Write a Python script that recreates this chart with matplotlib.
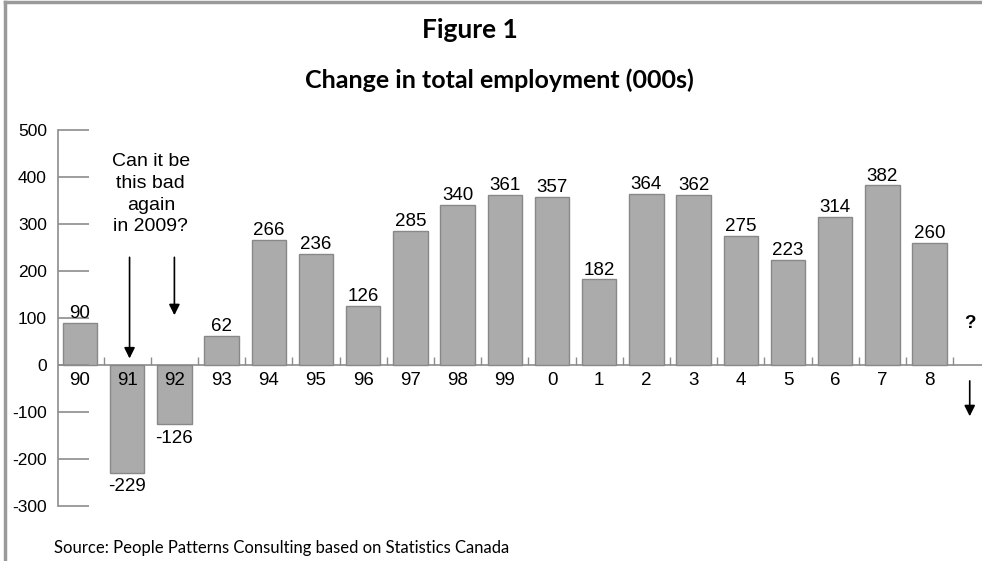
import matplotlib.pyplot as plt
from matplotlib.lines import Line2D

years = ["90", "91", "92", "93", "94", "95", "96", "97", "98", "99",
         "0", "1", "2", "3", "4", "5", "6", "7", "8"]
change = [90, -229, -126, 62, 266, 236, 126, 285, 340, 361,
          357, 182, 364, 362, 275, 223, 314, 382, 260]
yticks = [-300, -200, -100, 0, 100, 200, 300, 400, 500]

W, H = 982, 561
fig = plt.figure(figsize=(W / 100, H / 100), dpi=100)
ax = fig.add_axes([58 / W, 55 / H, 924 / W, 376 / H])

num_font = "Liberation Sans"
bar_col = "#ababab"
edge_col = "#888888"
axis_col = "#8c8c8c"

xs = list(range(len(years)))
ax.bar(xs, change, width=0.73, color=bar_col, edgecolor=edge_col, linewidth=1)

ax.set_xlim(-0.466, 19.11)
ax.set_ylim(-300, 500)

# value labels
for x, v in zip(xs, change):
    if v >= 0:
        ax.text(x, v + 2, str(v), ha="center", va="bottom", fontsize=13.5, family=num_font)
    else:
        ax.text(x, v - 12, str(v), ha="center", va="top", fontsize=13.5, family=num_font)

# category labels under the zero line
for x, lab in zip(xs, years):
    ax.text(x, -15, lab, ha="center", va="top", fontsize=13.5, family=num_font)

# zero line and small separators
ax.axhline(0, color=axis_col, lw=1.2, zorder=0)
ax.vlines([x + 0.5 for x in xs], 0, 16, color=axis_col, lw=1)

# y axis
for s in ["top", "right", "bottom"]:
    ax.spines[s].set_visible(False)
ax.spines["left"].set_color(axis_col)
ax.spines["left"].set_linewidth(1.2)
ax.set_xticks([])
ax.set_yticks(yticks)
ax.set_yticklabels([str(t) for t in yticks], family=num_font, fontsize=12.5)
ax.tick_params(axis="y", direction="in", length=22, width=1.2, color=axis_col, pad=8)

# annotations
ax.text(1.5, 450, "Can it be\nthis bad\nagain\nin 2009?", ha="center", va="top",
        fontsize=14, family=num_font, linespacing=1.35)
ax.annotate("", xy=(1.05, 8), xytext=(1.05, 235),
            arrowprops=dict(arrowstyle="-|>", color="black", lw=1.2, mutation_scale=16))
ax.annotate("", xy=(2.0, 100), xytext=(2.0, 235),
            arrowprops=dict(arrowstyle="-|>", color="black", lw=1.2, mutation_scale=16))
ax.text(18.85, 88, "?", ha="center", va="center", fontsize=13.5, fontweight="bold", family=num_font)
ax.annotate("", xy=(18.85, -115), xytext=(18.85, -28),
            arrowprops=dict(arrowstyle="-|>", color="black", lw=1.2, mutation_scale=16))

# titles and source
fig.text(470 / W, 1 - 30 / H, "Figure 1", ha="center", va="center",
         fontsize=19, fontweight="bold", family="Lato")
fig.text(499 / W, 1 - 80 / H, "Change in total employment (000s)", ha="center", va="center",
         fontsize=18, fontweight="bold", family="Lato")
fig.text(54 / W, 1 - 548 / H, "Source: People Patterns Consulting based on Statistics Canada",
         ha="left", va="center", fontsize=12, family="Lato")

# outer frame on top and left
fig.add_artist(Line2D([5 / W, 5 / W], [0, 1 - 2 / H], transform=fig.transFigure,
                      color="#9a9a9a", lw=2.5))
fig.add_artist(Line2D([5 / W, 1], [1 - 2 / H, 1 - 2 / H], transform=fig.transFigure,
                      color="#9a9a9a", lw=2.5))

fig.savefig("out.png", dpi=100)
